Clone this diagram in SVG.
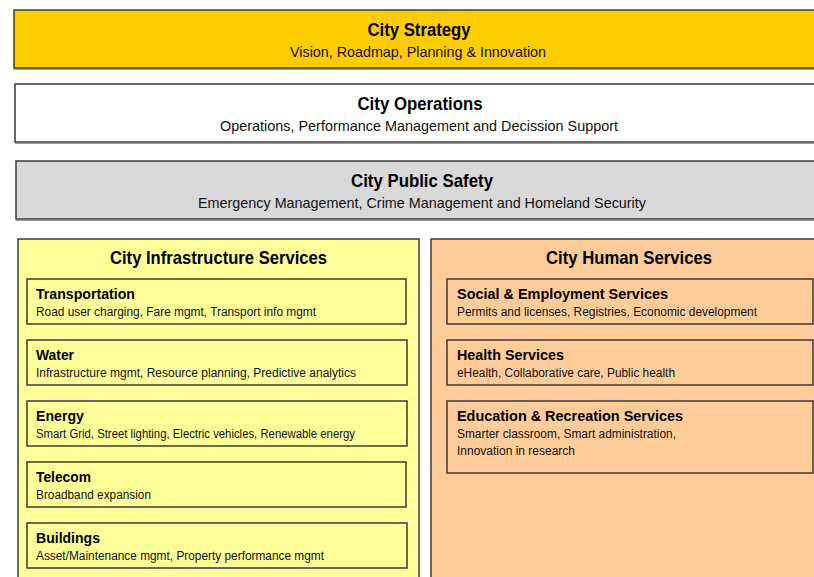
<svg xmlns="http://www.w3.org/2000/svg" width="814" height="577" viewBox="0 0 814 577">
<style>
  .box { stroke: #3a3a3a; stroke-width: 1.5; }
  .sh { fill: none; stroke: #9a9a9a; stroke-width: 1; }
  .t { font-family: "Liberation Sans", Arial, sans-serif; fill: #000; }
  .h1 { font-size: 19px; font-weight: bold; text-anchor: middle; }
  .s1 { font-size: 15px; text-anchor: middle; fill: #111; }
  .h2 { font-size: 15px; font-weight: bold; }
  .s2 { font-size: 12.5px; fill: #111; }
  .strat { fill: #FFCC00; }
  .ops { fill: #FFFFFF; }
  .safe { fill: #D9D9D9; }
  .infra { fill: #FFFF99; }
  .human { fill: #FFCC99; }
</style>
<rect width="814" height="577" fill="#FFFFFF"/>

<g id="city-strategy">
  <line class="sh" x1="14" y1="69.5" x2="814" y2="69.5"/>
  <rect class="box strat" x="14" y="10" width="820" height="58"/>
  <text class="t h1" x="419" y="36" textLength="103" lengthAdjust="spacingAndGlyphs">City Strategy</text>
  <text class="t s1" x="418" y="57" textLength="256" lengthAdjust="spacingAndGlyphs">Vision, Roadmap, Planning &amp; Innovation</text>
</g>

<g id="city-operations">
  <line class="sh" x1="15" y1="143.5" x2="814" y2="143.5"/>
  <rect class="box ops" x="15" y="84" width="820" height="58"/>
  <text class="t h1" x="420" y="110" textLength="125" lengthAdjust="spacingAndGlyphs">City Operations</text>
  <text class="t s1" x="419" y="131" textLength="398" lengthAdjust="spacingAndGlyphs">Operations, Performance Management and Decission Support</text>
</g>

<g id="city-public-safety">
  <line class="sh" x1="16" y1="220.5" x2="814" y2="220.5"/>
  <rect class="box safe" x="16" y="161" width="820" height="58"/>
  <text class="t h1" x="422" y="187" textLength="142" lengthAdjust="spacingAndGlyphs">City Public Safety</text>
  <text class="t s1" x="422" y="208" textLength="448" lengthAdjust="spacingAndGlyphs">Emergency Management, Crime Management and Homeland Security</text>
</g>

<g id="city-infrastructure-services">
  <rect class="box infra" x="18" y="239" width="401" height="350"/>
  <text class="t h1" x="218.5" y="264" textLength="217" lengthAdjust="spacingAndGlyphs">City Infrastructure Services</text>
</g>

<g id="transportation">
  <rect class="box infra" x="27" y="279" width="379" height="45"/>
  <text class="t h2" x="36" y="299" textLength="99" lengthAdjust="spacingAndGlyphs">Transportation</text>
  <text class="t s2" x="36" y="316" textLength="280" lengthAdjust="spacingAndGlyphs">Road user charging, Fare mgmt, Transport info mgmt</text>
</g>

<g id="water">
  <rect class="box infra" x="27" y="340" width="380" height="45"/>
  <text class="t h2" x="36" y="360" textLength="38" lengthAdjust="spacingAndGlyphs">Water</text>
  <text class="t s2" x="36" y="377" textLength="320" lengthAdjust="spacingAndGlyphs">Infrastructure mgmt, Resource planning, Predictive analytics</text>
</g>

<g id="energy">
  <rect class="box infra" x="27" y="401" width="380" height="45"/>
  <text class="t h2" x="36" y="421" textLength="48" lengthAdjust="spacingAndGlyphs">Energy</text>
  <text class="t s2" x="36" y="438" textLength="319" lengthAdjust="spacingAndGlyphs">Smart Grid, Street lighting, Electric vehicles, Renewable energy</text>
</g>

<g id="telecom">
  <rect class="box infra" x="27" y="462" width="379" height="45"/>
  <text class="t h2" x="36" y="482" textLength="55" lengthAdjust="spacingAndGlyphs">Telecom</text>
  <text class="t s2" x="36" y="499" textLength="115" lengthAdjust="spacingAndGlyphs">Broadband expansion</text>
</g>

<g id="buildings">
  <rect class="box infra" x="27" y="523" width="380" height="45"/>
  <text class="t h2" x="36" y="543" textLength="64" lengthAdjust="spacingAndGlyphs">Buildings</text>
  <text class="t s2" x="36" y="560" textLength="288" lengthAdjust="spacingAndGlyphs">Asset/Maintenance mgmt, Property performance mgmt</text>
</g>

<g id="city-human-services">
  <rect class="box human" x="431" y="239" width="400" height="350"/>
  <text class="t h1" x="629" y="264" textLength="166" lengthAdjust="spacingAndGlyphs">City Human Services</text>
</g>

<g id="social-employment-services">
  <rect class="box human" x="447" y="279" width="366" height="45"/>
  <text class="t h2" x="457" y="299" textLength="211" lengthAdjust="spacingAndGlyphs">Social &amp; Employment Services</text>
  <text class="t s2" x="457" y="316" textLength="300" lengthAdjust="spacingAndGlyphs">Permits and licenses, Registries, Economic development</text>
</g>

<g id="health-services">
  <rect class="box human" x="447" y="340" width="366" height="45"/>
  <text class="t h2" x="457" y="360" textLength="107" lengthAdjust="spacingAndGlyphs">Health Services</text>
  <text class="t s2" x="457" y="377" textLength="218" lengthAdjust="spacingAndGlyphs">eHealth, Collaborative care, Public health</text>
</g>

<g id="education-recreation-services">
  <rect class="box human" x="447" y="401" width="366" height="72"/>
  <text class="t h2" x="457" y="421" textLength="226" lengthAdjust="spacingAndGlyphs">Education &amp; Recreation Services</text>
  <text class="t s2" x="457" y="438" textLength="219" lengthAdjust="spacingAndGlyphs">Smarter classroom, Smart administration,</text>
  <text class="t s2" x="457" y="455" textLength="118" lengthAdjust="spacingAndGlyphs">Innovation in research</text>
</g>

<g id="connectors"></g>
</svg>
